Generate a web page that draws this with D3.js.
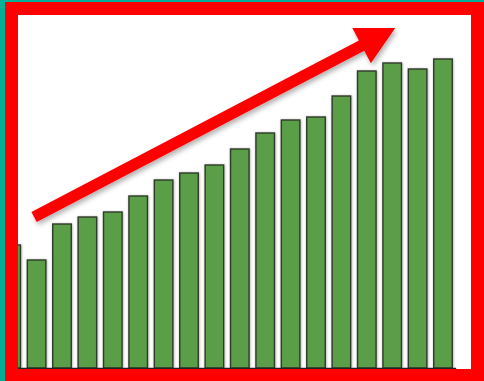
<!DOCTYPE html>
<html>
<head>
<meta charset="utf-8">
<script src="https://cdn.jsdelivr.net/npm/d3@7"></script>
<style>
  html, body { margin: 0; padding: 0; background: #fff; }
  svg { display: block; }
</style>
</head>
<body>
<svg id="chart" width="484" height="381"></svg>
<script>
// Data (bar heights, arbitrary units)
const categories = ["1","2","3","4","5","6","7","8","9","10","11","12","13","14","15","16","17","18"];
const values = [123, 108, 144, 151, 156, 172, 188, 195, 203, 219, 235, 248, 251, 272, 297, 305, 299, 309];
// Trend arrow endpoints in data space: [category index, value]
const arrowFrom = [0.9, 151];
const arrowTo = [15.12, 340];

const W = 484, H = 381;
const svg = d3.select("#chart");

const x = d3.scaleBand().domain(categories).range([-1.5, 455.7]).paddingInner(0.27).paddingOuter(0.135);
const y = d3.scaleLinear().domain([0, 320]).range([368, 48]);

const defs = svg.append("defs");
const fBar = defs.append("filter").attr("id", "barShadow").attr("x", "-20%").attr("y", "-20%").attr("width", "140%").attr("height", "140%");
fBar.append("feDropShadow").attr("dx", 0.5).attr("dy", 0.5).attr("stdDeviation", 1).attr("flood-color", "#000").attr("flood-opacity", 0.35);
const fArr = defs.append("filter").attr("id", "arrowShadow").attr("x", "-20%").attr("y", "-20%").attr("width", "140%").attr("height", "160%");
fArr.append("feDropShadow").attr("dx", 2).attr("dy", 3).attr("stdDeviation", 2.5).attr("flood-color", "#000").attr("flood-opacity", 0.3);

// Background
svg.append("rect").attr("width", W).attr("height", H).attr("fill", "#fff");

// Bars
svg.append("g").selectAll("rect").data(values).join("rect")
  .attr("x", (d, i) => x(categories[i]))
  .attr("y", d => y(d))
  .attr("width", x.bandwidth())
  .attr("height", d => y(0) - y(d))
  .attr("fill", "#5a9e47")
  .attr("stroke", "#2f3a2b")
  .attr("stroke-width", 1.4)
  .attr("filter", "url(#barShadow)");

// Baseline axis
const axis = svg.append("g").attr("transform", `translate(0,${y(0)})`)
  .call(d3.axisBottom(x).tickSize(0).tickFormat(""));
axis.select(".domain").attr("stroke", "#222").attr("stroke-width", 1.5);

// Trend arrow
const ax = i => x(categories[0]) + x.step() * i + x.bandwidth() / 2;
const x0 = ax(arrowFrom[0]), y0 = y(arrowFrom[1]);
const x1 = ax(arrowTo[0]), y1 = y(arrowTo[1]);
const dx = x1 - x0, dy = y1 - y0, len = Math.hypot(dx, dy);
const ux = dx / len, uy = dy / len, nx = -uy, ny = ux;
const shaftW = 11.5, headW = 40, headL = 38;
const bx = x1 - ux * headL, by = y1 - uy * headL;
const pts = [
  [x0 + nx * shaftW / 2, y0 + ny * shaftW / 2],
  [bx + nx * shaftW / 2, by + ny * shaftW / 2],
  [bx + nx * headW / 2, by + ny * headW / 2],
  [x1, y1],
  [bx - nx * headW / 2, by - ny * headW / 2],
  [bx - nx * shaftW / 2, by - ny * shaftW / 2],
  [x0 - nx * shaftW / 2, y0 - ny * shaftW / 2]
];
svg.append("path").attr("d", d3.line()(pts) + "Z").attr("fill", "#ff0000").attr("filter", "url(#arrowShadow)");

// Red frame (drawn over the plot)
svg.append("path")
  .attr("d", `M5,2H${W}V${H}H5Z M18,15V369H471V15Z`)
  .attr("fill", "#ff0000").attr("fill-rule", "evenodd");
// Teal outer edge (left and top)
svg.append("rect").attr("x", 0).attr("y", 0).attr("width", 5).attr("height", H).attr("fill", "#00b096");
svg.append("rect").attr("x", 0).attr("y", 0).attr("width", W).attr("height", 2).attr("fill", "#00b096");
</script>
</body>
</html>
